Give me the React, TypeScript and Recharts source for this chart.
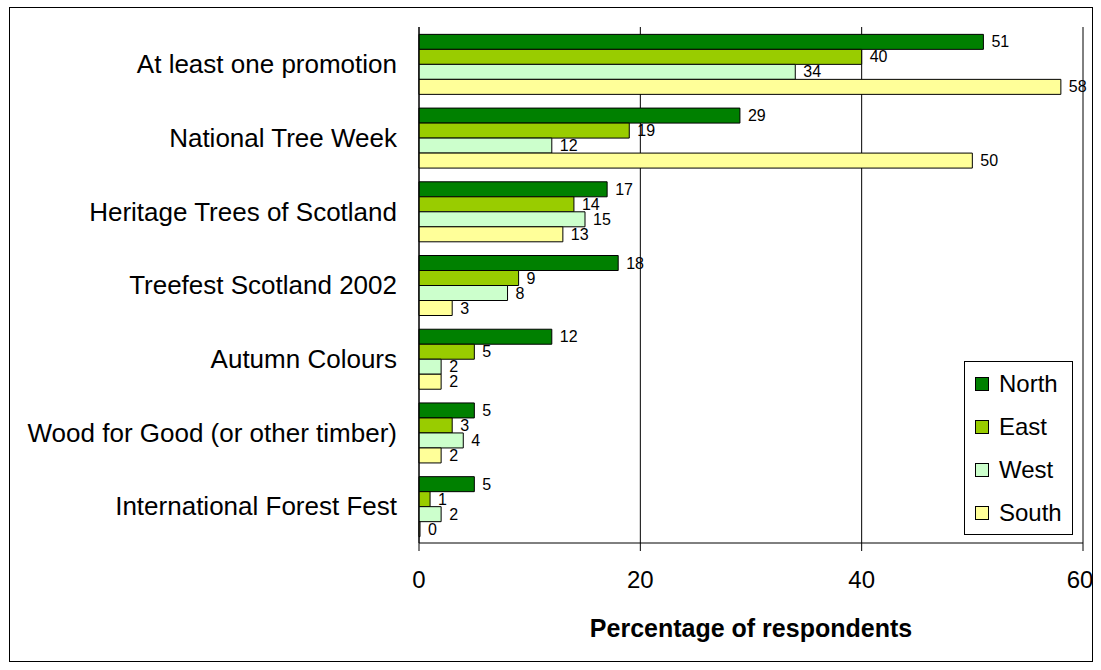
import { BarChart, Bar, XAxis, YAxis, CartesianGrid, Legend, LabelList } from "recharts"

const categories = [
  "At least one promotion",
  "National Tree Week",
  "Heritage Trees of Scotland",
  "Treefest Scotland 2002",
  "Autumn Colours",
  "Wood for Good (or other timber)",
  "International Forest Fest",
]

const north = [51, 29, 17, 18, 12, 5, 5]
const east = [40, 19, 14, 9, 5, 3, 1]
const west = [34, 12, 15, 8, 2, 4, 2]
const south = [58, 50, 13, 3, 2, 2, 0]

const xTicks = [0, 20, 40, 60]

const data = categories.map((name, i) => ({
  name,
  North: north[i],
  East: east[i],
  West: west[i],
  South: south[i],
}))

const series = [
  { key: "North", color: "#008000" },
  { key: "East", color: "#99CC00" },
  { key: "West", color: "#CCFFCC" },
  { key: "South", color: "#FFFF99" },
]

const seriesOrder = series.map((s) => s.key)

function LegendBox({ payload }: any) {
  const items = [...(payload || [])].sort(
    (a: any, b: any) => seriesOrder.indexOf(a.value) - seriesOrder.indexOf(b.value)
  )
  return (
    <div
      style={{
        border: "1px solid #000",
        width: 109,
        height: 174,
        boxSizing: "border-box",
        background: "#fff",
      }}
    >
      {items.map((entry: any) => (
        <div
          key={entry.value}
          style={{ display: "flex", alignItems: "center", height: 43, fontSize: 24, color: "#000" }}
        >
          <span
            style={{
              display: "inline-block",
              width: 12,
              height: 12,
              border: "1px solid #000",
              background: entry.color,
              marginLeft: 10,
              marginRight: 10,
            }}
          />
          {entry.value}
        </div>
      ))}
    </div>
  )
}

// value label to the right of the bar (zero too)
function BarValue(props: any) {
  const { x, y, width, height, value } = props
  if (value == null) return null
  return (
    <text
      x={Number(x) + Number(width) + 8}
      y={Number(y) + Number(height) / 2}
      dominantBaseline="central"
      fontSize={16}
      fill="#000"
    >
      {value}
    </text>
  )
}

export default function App() {
  return (
    <div
      style={{
        position: "absolute",
        left: 9,
        top: 7,
        width: 1084,
        height: 655,
        border: "1px solid #000",
        boxSizing: "border-box",
        background: "#fff",
        fontFamily: "Arial, 'Liberation Sans', sans-serif",
      }}
    >
      <BarChart
        width={1082}
        height={653}
        data={data}
        layout="vertical"
        margin={{ top: 19, right: 9, left: 0, bottom: 0 }}
        barCategoryGap="10%"
        barGap={0}
      >
        <CartesianGrid horizontal={false} stroke="#000" />
        <XAxis
          type="number"
          domain={[0, 60]}
          ticks={xTicks}
          height={118}
          stroke="#000"
          tickSize={8}
          tickMargin={20}
          tick={{ fontSize: 24, fill: "#000" }}
          label={{
            value: "Percentage of respondents",
            position: "insideBottom",
            offset: 24,
            style: { fontSize: 25, fontWeight: "bold", fill: "#000" },
          }}
        />
        <XAxis
          xAxisId="top"
          orientation="top"
          type="number"
          domain={[0, 60]}
          height={0}
          stroke="#000"
          tick={false}
          tickLine={false}
        />
        <YAxis
          type="category"
          dataKey="name"
          width={409}
          stroke="#000"
          tickLine={false}
          tickSize={0}
          tickMargin={22}
          tick={{ fontSize: 26, fill: "#000" }}
          interval={0}
        />
        <Legend
          content={<LegendBox />}
          layout="vertical"
          align="center"
          verticalAlign="middle"
          wrapperStyle={{ left: 954, top: 353, width: 109, height: 174 }}
        />
        {series.map((s) => (
          <Bar
            key={s.key}
            dataKey={s.key}
            fill={s.color}
            stroke="#000"
            strokeWidth={1}
            minPointSize={1}
            isAnimationActive={false}
          >
            <LabelList dataKey={s.key} content={<BarValue />} />
          </Bar>
        ))}
      </BarChart>
    </div>
  )
}
